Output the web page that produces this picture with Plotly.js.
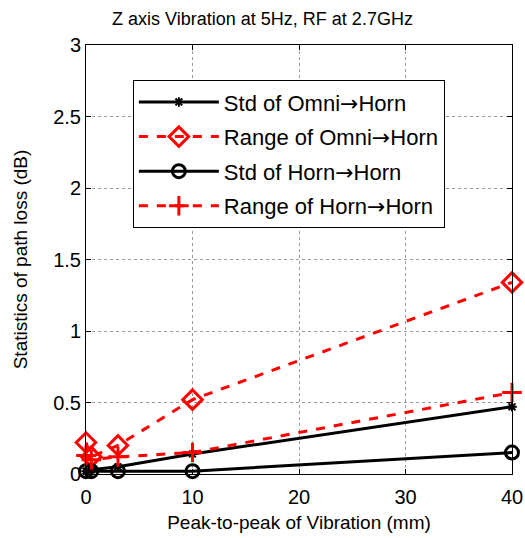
<!DOCTYPE html>
<html>
<head>
<meta charset="utf-8">
<script src="https://cdn.plot.ly/plotly-3.0.1.min.js"></script>
<style>html,body{margin:0;padding:0;background:#fff;}#chart{width:525px;height:538px;}</style>
</head>
<body>
<div id="chart"></div>
<script>
const vibration = [0, 0.5, 3, 10, 40];
const stdOmniHorn = [0.02, 0.03, 0.05, 0.14, 0.47];
const rangeOmniHorn = [0.22, 0.12, 0.20, 0.52, 1.34];
const stdHornHorn = [0.02, 0.02, 0.02, 0.02, 0.15];
const rangeHornHorn = [0.13, 0.10, 0.12, 0.15, 0.57];
const arrow = '<span style="font-family:DejaVu Sans">\u2192</span>';
const seriesNames = ['Std of Omni' + arrow + 'Horn', 'Range of Omni' + arrow + 'Horn', 'Std of Horn' + arrow + 'Horn', 'Range of Horn' + arrow + 'Horn'];
const xTicks = [0, 10, 20, 30, 40];
const yTicks = [0, 0.5, 1, 1.5, 2, 2.5, 3];
const yTickText = ['0', '0.5', '1', '1.5', '2', '2.5', '3'];

const traces = [
  {x: vibration, y: stdOmniHorn, name: seriesNames[0], legendgroup: 'a', mode: 'lines+markers',
   line: {color: '#000', width: 3}, marker: {symbol: 'asterisk-open', size: 8, color: '#000', line: {color: '#000', width: 2}}},
  {x: vibration, y: rangeOmniHorn, name: seriesNames[1], legendgroup: 'b', mode: 'lines+markers',
   line: {color: '#ff0000', width: 3, dash: 'dash'}, marker: {symbol: 'diamond-open', size: 15, color: '#ff0000', line: {color: '#ff0000', width: 3}}},
  {x: vibration, y: stdHornHorn, name: seriesNames[2], legendgroup: 'c', mode: 'lines+markers',
   line: {color: '#000', width: 3}, marker: {symbol: 'circle-open', size: 13, color: '#000', line: {color: '#000', width: 3}}},
  {x: vibration, y: rangeHornHorn, name: seriesNames[3], legendgroup: 'd', mode: 'lines+markers',
   line: {color: '#ff0000', width: 3, dash: 'dash'}, marker: {symbol: 'cross-thin-open', size: 14, color: '#ff0000', line: {color: '#ff0000', width: 3}}}
];
traces.forEach(t => t.cliponaxis = false);

const axisCommon = {
  showline: true, linecolor: '#000', linewidth: 1, mirror: 'ticks',
  ticks: 'inside', ticklen: 5, tickcolor: '#000',
  showgrid: true, gridcolor: '#9a9a9a', griddash: 'dot', gridwidth: 1,
  zeroline: false, tickfont: {family: 'Liberation Sans, Arial', size: 20, color: '#000'}
};

const layout = {
  width: 525, height: 538,
  margin: {l: 86, r: 13, t: 45, b: 64},
  paper_bgcolor: '#fff', plot_bgcolor: '#fff',
  font: {family: 'Liberation Sans, Arial', color: '#000'},
  title: {text: 'Z axis Vibration at 5Hz, RF at 2.7GHz', font: {size: 18, color: '#000'}, x: 0.5, xanchor: 'center', y: 0.966, yanchor: 'middle'},
  xaxis: Object.assign({}, axisCommon, {range: [0, 40], tickvals: xTicks, ticktext: xTicks.map(String), ticklabelstandoff: 5,
    title: {text: 'Peak-to-peak of Vibration (mm)', font: {size: 19, color: '#000'}, standoff: 8}}),
  yaxis: Object.assign({}, axisCommon, {range: [0, 3], tickvals: yTicks, ticktext: yTickText,
    title: {text: 'Statistics of path loss (dB)', font: {size: 19, color: '#000'}, standoff: 20}}),
  legend: {x: 0.11, y: 0.918, xanchor: 'left', yanchor: 'top', bgcolor: '#fff', bordercolor: '#000', borderwidth: 1,
    font: {size: 22, color: '#000'}, itemwidth: 80, tracegroupgap: 3},
  showlegend: true
};

Plotly.newPlot('chart', traces, layout, {displayModeBar: false, staticPlot: true});
</script>
</body>
</html>
